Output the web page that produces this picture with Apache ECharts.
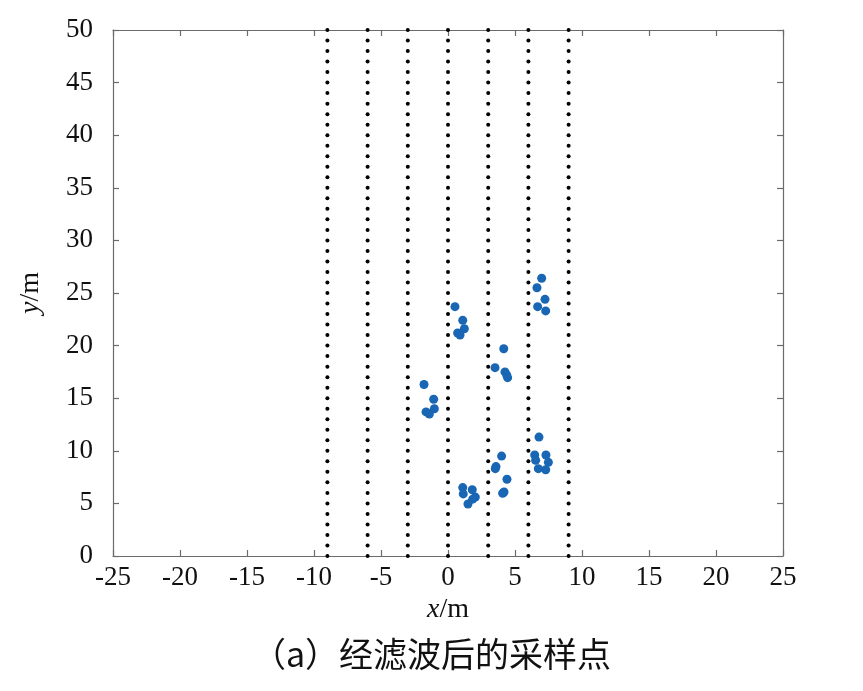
<!DOCTYPE html>
<html><head><meta charset="utf-8">
<script src="https://cdn.jsdelivr.net/npm/echarts@6/dist/echarts.min.js"></script>
<style>html,body{margin:0;padding:0;background:#fff}#c{width:863px;height:691px}</style>
</head><body><div id="c"></div>
<script>
const xTicks = [-25,-20,-15,-10,-5,0,5,10,15,20,25];
const yTicks = [0,5,10,15,20,25,30,35,40,45,50];
const laneX = [-9,-6,-3,0,3,6,9];
const sampleX = [0.52,1.1,1.22,0.72,0.9, 6.99,6.64,7.24,6.69,7.29, 4.16,3.51,4.25,4.38,4.45, -1.79,-1.07,-1.02,-1.64,-1.39, 1.1,1.14,1.81,2.04,1.84,1.49, 4.0,3.58,3.53,4.4,4.18,4.08, 6.79,6.47,6.54,7.31,7.49,6.74,7.29];
const sampleY = [23.7,22.4,21.6,21.2,21.0, 26.4,25.5,24.4,23.7,23.3, 19.7,17.9,17.5,17.2,16.95, 16.3,14.9,14.0,13.7,13.5, 6.5,5.9,6.3,5.6,5.4,4.94, 9.5,8.5,8.3,7.3,6.08,5.96, 11.3,9.6,9.1,9.6,8.9,8.3,8.2];
const laneYMax = 50;

const laneData = [];
laneX.forEach(x => { for (let y = 0; y <= laneYMax; y++) laneData.push([x, y]); });
const pts = sampleX.map((x, i) => [x, sampleY[i]]);

const serif = '"Liberation Serif","Times New Roman","Noto Sans CJK SC",serif';
const axisLineStyle = {color:'#6b6b6b', width:1.2};
const chart = echarts.init(document.getElementById('c'), null, {renderer:'canvas'});
const baseX = {type:'value', min:-25, max:25, interval:5, splitLine:{show:false}};
const baseY = {type:'value', min:0, max:50, interval:5, splitLine:{show:false}};
const nameStyle = {fontFamily:serif, fontSize:28, color:'#111', rich:{i:{fontFamily:serif, fontStyle:'italic', fontSize:28, color:'#111'}}};
chart.setOption({
  animation:false,
  backgroundColor:'#fff',
  title:{text:'（a）经滤波后的采样点', left:'center', top:632,
    textStyle:{fontFamily:'"Noto Sans CJK SC",serif', fontSize:34, fontWeight:'normal', color:'#111'}},
  grid:{left:113, right:80, top:30, bottom:135},
  xAxis:[
    Object.assign({}, baseX, {position:'bottom', axisLine:{show:true, onZero:false, lineStyle:axisLineStyle},
      axisTick:{show:true, inside:true, length:6, lineStyle:axisLineStyle},
      axisLabel:{show:true, margin:8, fontFamily:serif, fontSize:27, color:'#111', formatter:v=>xTicks.includes(v)?String(v):''},
      name:'{i|x}/m', nameLocation:'middle', nameGap:38, nameTextStyle:nameStyle}),
    Object.assign({}, baseX, {position:'top', axisLine:{show:true, onZero:false, lineStyle:axisLineStyle},
      axisTick:{show:true, inside:true, length:6, lineStyle:axisLineStyle}, axisLabel:{show:false}})
  ],
  yAxis:[
    Object.assign({}, baseY, {position:'left', axisLine:{show:true, onZero:false, lineStyle:axisLineStyle},
      axisTick:{show:true, inside:true, length:6, lineStyle:axisLineStyle},
      axisLabel:{show:true, margin:20, fontFamily:serif, fontSize:27, color:'#111', formatter:v=>yTicks.includes(v)?String(v):''},
      name:'{i|y}/m', nameLocation:'middle', nameGap:68, nameRotate:90, nameTextStyle:nameStyle}),
    Object.assign({}, baseY, {position:'right', axisLine:{show:true, onZero:false, lineStyle:axisLineStyle},
      axisTick:{show:true, inside:true, length:6, lineStyle:axisLineStyle}, axisLabel:{show:false}})
  ],
  series:[
    {type:'scatter', data:laneData, symbol:'circle', symbolSize:4, itemStyle:{color:'#000', opacity:1}, silent:true, z:3},
    {type:'scatter', data:pts, symbol:'circle', symbolSize:9, itemStyle:{color:'#1866b4', opacity:1}, z:4}
  ]
});
</script></body></html>
